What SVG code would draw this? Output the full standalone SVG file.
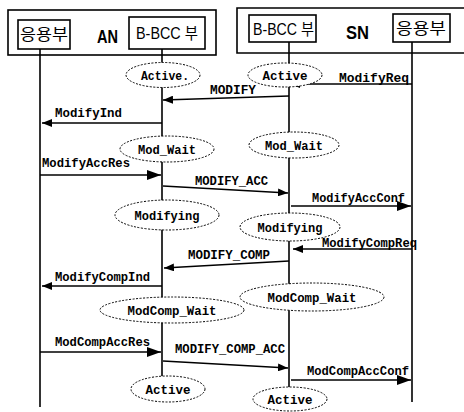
<svg xmlns="http://www.w3.org/2000/svg" width="464" height="412" viewBox="0 0 464 412">
<style>
.box{fill:none;stroke:#000;stroke-width:1.6}
.life{stroke:#000;stroke-width:1.6;fill:none}
.msg{stroke:#000;stroke-width:1.5;fill:none}
.st{fill:#fff;stroke:#000;stroke-width:1;stroke-dasharray:2 1.5}
.t{font-family:"Liberation Mono",monospace;font-size:13.5px;font-weight:bold;fill:#000}
.tc{font-family:"Liberation Mono",monospace;font-size:13.5px;font-weight:bold;fill:#000;text-anchor:middle}
.hk{font-family:"Noto Sans CJK KR",sans-serif;font-size:16px;fill:#000}
.hb{font-family:"Liberation Sans","Noto Sans CJK KR",sans-serif;font-size:16px;fill:#000}
.hn{font-family:"Liberation Sans",sans-serif;font-size:18px;font-weight:bold;fill:#000}
</style>
<defs>
<marker id="ah" viewBox="0 0 10 8" refX="10" refY="4" markerWidth="10" markerHeight="8" markerUnits="userSpaceOnUse" orient="auto"><path d="M0,0L10,4L0,8z" fill="#000"/></marker>
<marker id="ahb" viewBox="0 0 14 10" refX="14" refY="5" markerWidth="14" markerHeight="10" markerUnits="userSpaceOnUse" orient="auto"><path d="M0,0L14,5L0,10z" fill="#000"/></marker>
</defs>
<rect width="464" height="412" fill="#fff"/>

<g id="AN">
<rect class="box" x="8" y="10" width="208" height="45"/>
<text class="hn" x="97" y="43" textLength="21" lengthAdjust="spacingAndGlyphs">AN</text>
</g>
<g id="AN_app">
<rect class="box" x="18" y="20" width="52" height="29"/>
<text class="hk" x="44" y="40" text-anchor="middle" textLength="48" lengthAdjust="spacingAndGlyphs">응용부</text>
</g>
<g id="AN_bcc">
<rect class="box" x="129" y="17" width="76" height="32"/>
<text class="hb" x="136" y="39" textLength="62" lengthAdjust="spacingAndGlyphs">B-BCC 부</text>
</g>
<g id="SN">
<path class="box" d="M464,8H237V53H464"/>
<text class="hn" x="346" y="39" textLength="23" lengthAdjust="spacingAndGlyphs">SN</text>
</g>
<g id="SN_bcc">
<rect class="box" x="249" y="15" width="67" height="27"/>
<text class="hb" x="253" y="35" textLength="61" lengthAdjust="spacingAndGlyphs">B-BCC 부</text>
</g>
<g id="SN_app">
<rect class="box" x="393" y="14" width="57" height="28"/>
<text class="hk" x="421" y="34" text-anchor="middle" textLength="50" lengthAdjust="spacingAndGlyphs">응용부</text>
</g>

<g id="lifelines">
<line class="life" x1="40" y1="49" x2="40" y2="407"/>
<line class="life" x1="162" y1="49" x2="162" y2="376"/>
<line class="life" x1="289" y1="42" x2="289" y2="387"/>
<line class="life" x1="412" y1="42" x2="412" y2="402"/>
</g>

<g id="connectors">
<line class="msg" x1="412" y1="84" x2="290" y2="84" marker-end="url(#ah)"/>
<text class="t" x="339" y="82" textLength="70" lengthAdjust="spacingAndGlyphs">ModifyReq</text>
<line class="msg" x1="289" y1="96" x2="163" y2="100" marker-end="url(#ah)"/>
<text class="t" x="210" y="94" textLength="46" lengthAdjust="spacingAndGlyphs">MODIFY</text>
<line class="msg" x1="162" y1="123" x2="42" y2="123" marker-end="url(#ah)"/>
<text class="t" x="55" y="117" textLength="67" lengthAdjust="spacingAndGlyphs">ModifyInd</text>
<line class="msg" x1="40" y1="175" x2="161" y2="175" marker-end="url(#ahb)"/>
<text class="t" x="42" y="167" textLength="88" lengthAdjust="spacingAndGlyphs">ModifyAccRes</text>
<line class="msg" x1="163" y1="186" x2="288" y2="193" marker-end="url(#ah)"/>
<text class="t" x="195" y="185" textLength="73" lengthAdjust="spacingAndGlyphs">MODIFY_ACC</text>
<line class="msg" x1="291" y1="206" x2="411" y2="206" marker-end="url(#ahb)"/>
<text class="t" x="312" y="202" textLength="93" lengthAdjust="spacingAndGlyphs">ModifyAccConf</text>
<line class="msg" x1="412" y1="249" x2="293" y2="249" marker-end="url(#ah)"/>
<text class="t" x="322" y="247" textLength="95" lengthAdjust="spacingAndGlyphs">ModifyCompReq</text>
<line class="msg" x1="289" y1="261" x2="164" y2="268" marker-end="url(#ah)"/>
<text class="t" x="188" y="259" textLength="82" lengthAdjust="spacingAndGlyphs">MODIFY_COMP</text>
<line class="msg" x1="162" y1="286" x2="42" y2="286" marker-end="url(#ah)"/>
<text class="t" x="55" y="281" textLength="95" lengthAdjust="spacingAndGlyphs">ModifyCompInd</text>
<line class="msg" x1="40" y1="352" x2="161" y2="352" marker-end="url(#ahb)"/>
<text class="t" x="55" y="346" textLength="95" lengthAdjust="spacingAndGlyphs">ModCompAccRes</text>
<line class="msg" x1="163" y1="361" x2="288" y2="368" marker-end="url(#ah)"/>
<text class="t" x="175" y="353" textLength="110" lengthAdjust="spacingAndGlyphs">MODIFY_COMP_ACC</text>
<line class="msg" x1="291" y1="380" x2="411" y2="380" marker-end="url(#ahb)"/>
<text class="t" x="307" y="375" textLength="102" lengthAdjust="spacingAndGlyphs">ModCompAccConf</text>
</g>

<g id="AN_active1"><ellipse class="st" cx="163" cy="75" rx="37" ry="12.5"/><text class="tc" x="165" y="80" textLength="48" lengthAdjust="spacingAndGlyphs">Active.</text></g>
<g id="SN_active1"><ellipse class="st" cx="285" cy="75" rx="37" ry="12"/><text class="tc" x="285" y="80" textLength="45" lengthAdjust="spacingAndGlyphs">Active</text></g>
<g id="AN_modwait"><ellipse class="st" cx="167" cy="149" rx="47" ry="13"/><text class="tc" x="167" y="154" textLength="58" lengthAdjust="spacingAndGlyphs">Mod_Wait</text></g>
<g id="SN_modwait"><ellipse class="st" cx="294" cy="145" rx="45" ry="13"/><text class="tc" x="294" y="150" textLength="58" lengthAdjust="spacingAndGlyphs">Mod_Wait</text></g>
<g id="AN_modifying"><ellipse class="st" cx="167" cy="215" rx="52" ry="15"/><text class="tc" x="167" y="220" textLength="65" lengthAdjust="spacingAndGlyphs">Modifying</text></g>
<g id="SN_modifying"><ellipse class="st" cx="290" cy="227" rx="50" ry="14"/><text class="tc" x="290" y="232" textLength="65" lengthAdjust="spacingAndGlyphs">Modifying</text></g>
<g id="AN_modcompwait"><ellipse class="st" cx="172" cy="310" rx="72" ry="13"/><text class="tc" x="172" y="315" textLength="89" lengthAdjust="spacingAndGlyphs">ModComp_Wait</text></g>
<g id="SN_modcompwait"><ellipse class="st" cx="312" cy="297" rx="72" ry="14"/><text class="tc" x="312" y="302" textLength="89" lengthAdjust="spacingAndGlyphs">ModComp_Wait</text></g>
<g id="AN_active2"><ellipse class="st" cx="168" cy="389" rx="37" ry="13"/><text class="tc" x="168" y="394" textLength="45" lengthAdjust="spacingAndGlyphs">Active</text></g>
<g id="SN_active2"><ellipse class="st" cx="290" cy="399" rx="37" ry="12"/><text class="tc" x="290" y="404" textLength="45" lengthAdjust="spacingAndGlyphs">Active</text></g>
</svg>
